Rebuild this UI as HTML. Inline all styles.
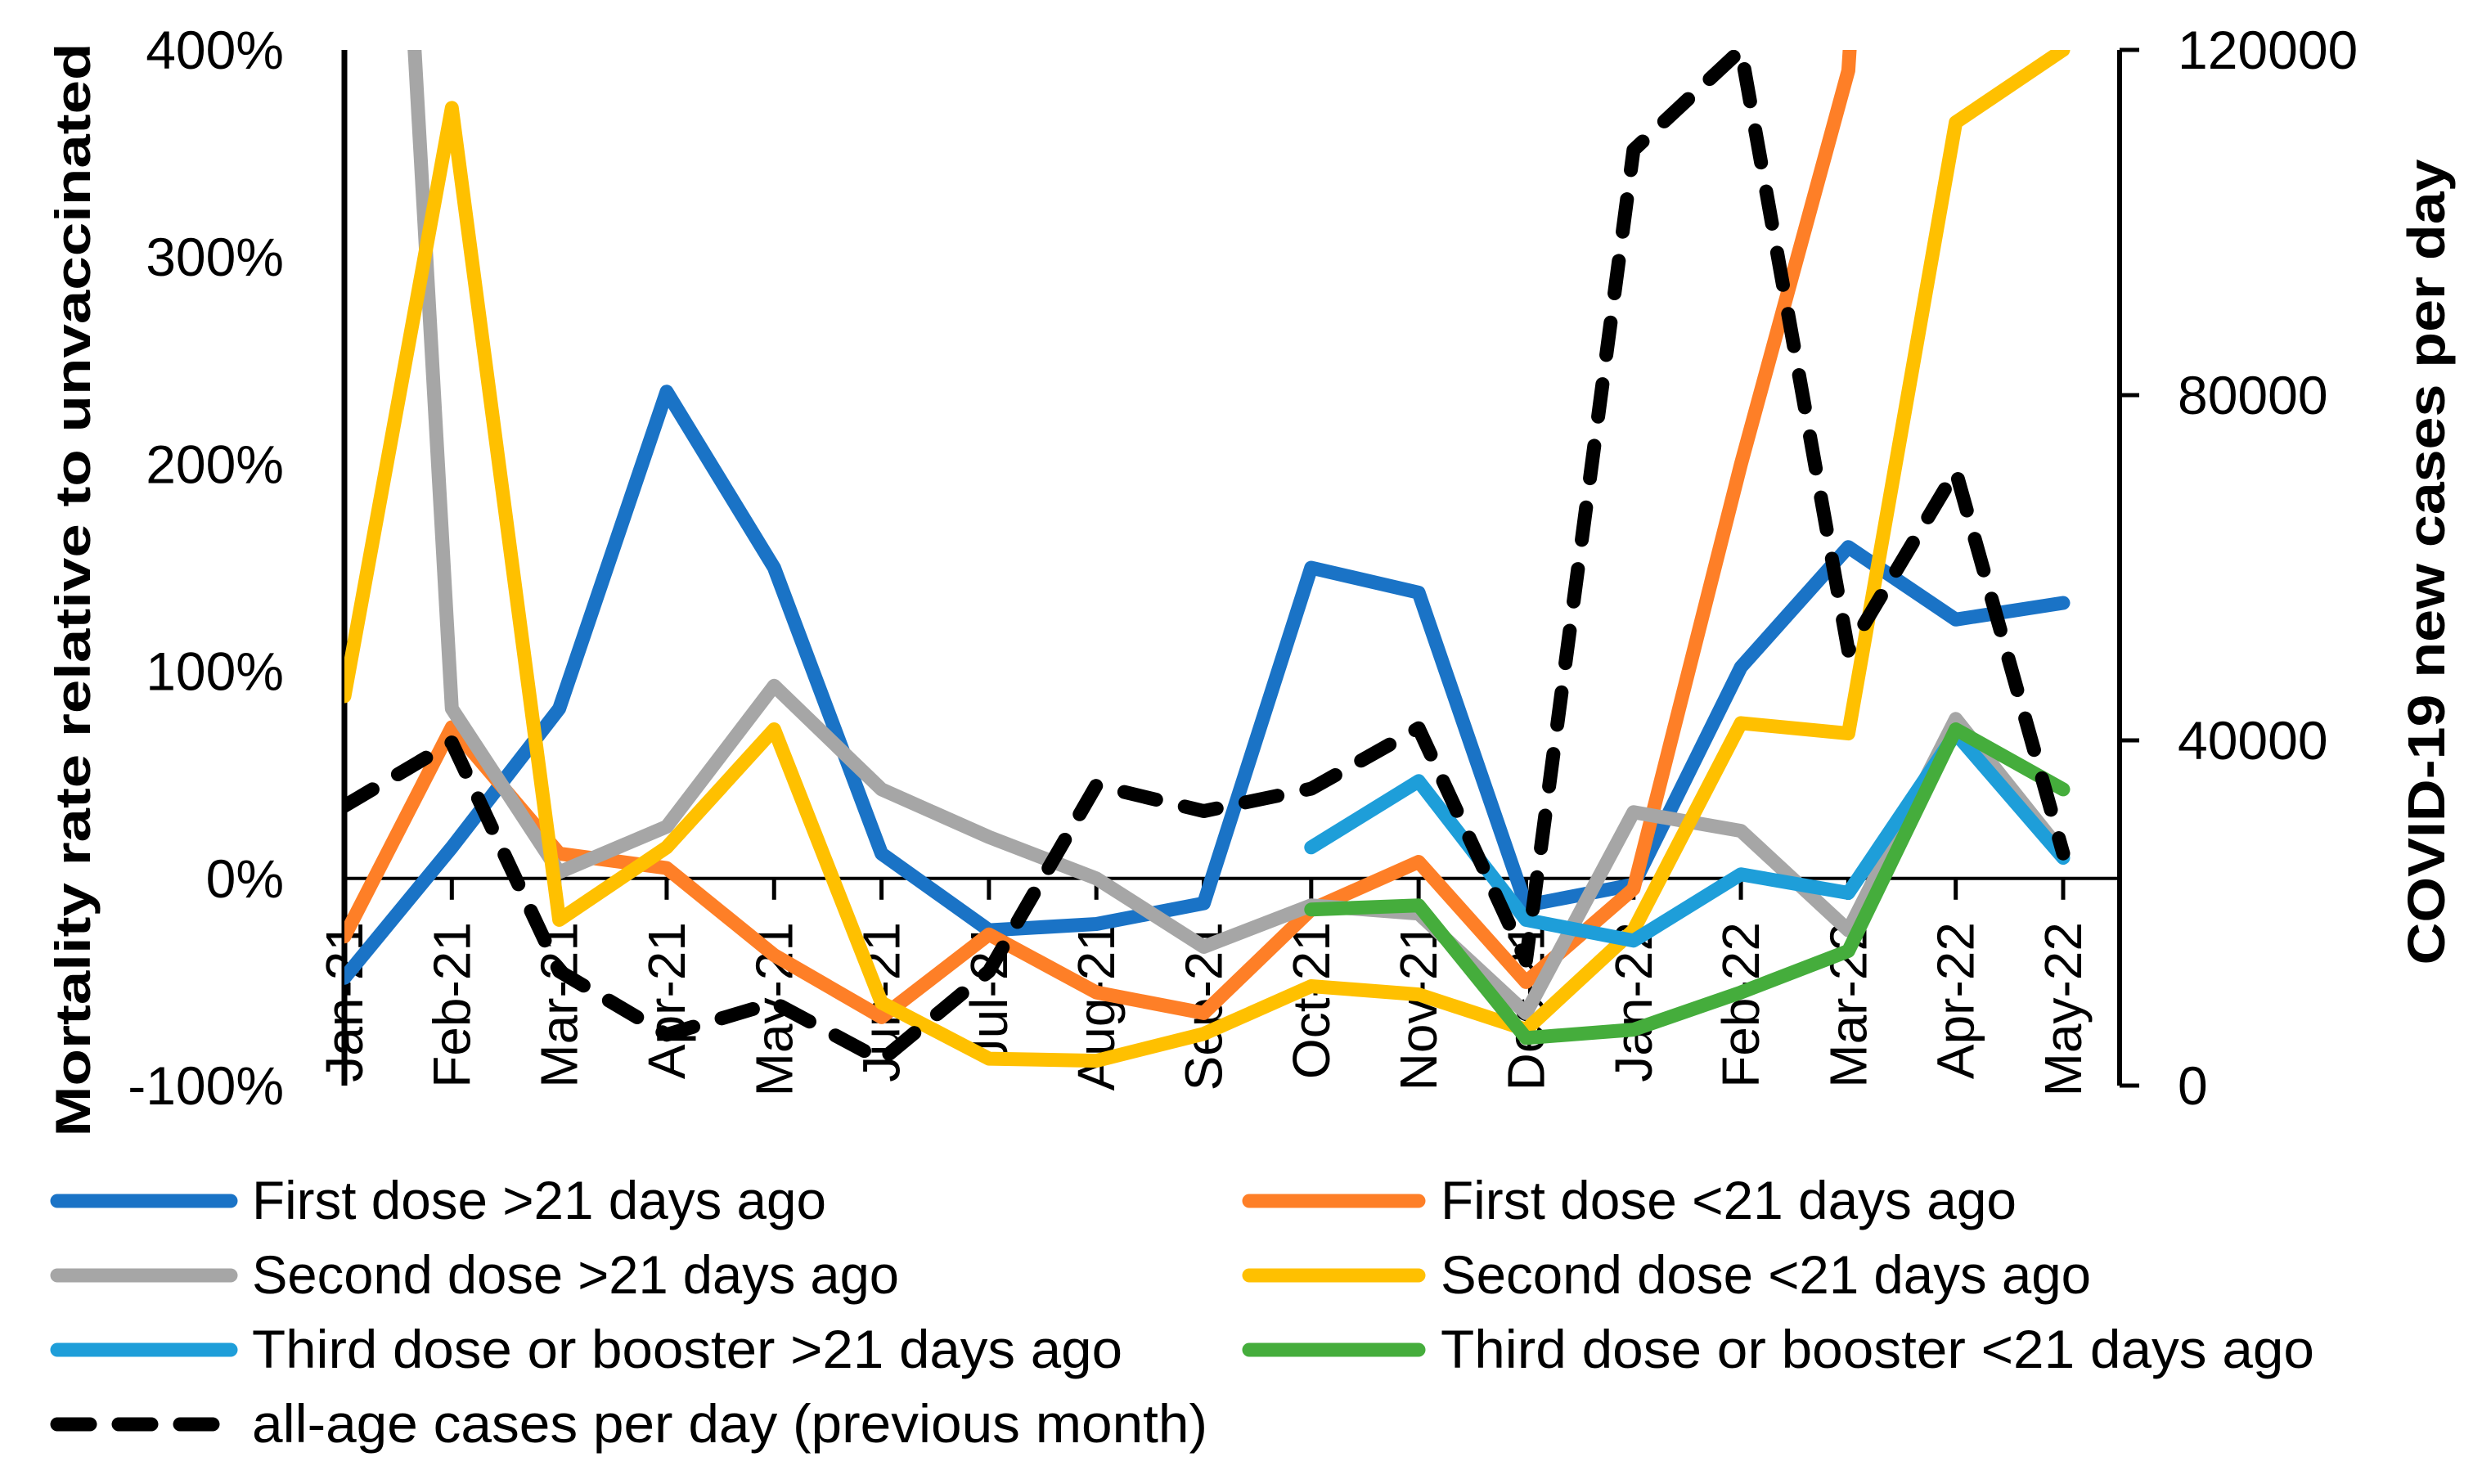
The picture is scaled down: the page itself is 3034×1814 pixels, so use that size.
<!DOCTYPE html>
<html><head><meta charset="utf-8"><style>
html,body{margin:0;padding:0;background:#fff}
svg{display:block}
text{font-family:"Liberation Sans",sans-serif;fill:#000}
</style></head><body>
<svg id="chart" width="3034" height="1814" viewBox="0 0 3034 1814" xmlns="http://www.w3.org/2000/svg">
<defs><clipPath id="plotclip"><rect x="421" y="61" width="2170" height="1266"/></clipPath></defs>
<g id="axes"></g>
<g id="series" clip-path="url(#plotclip)"></g>
<g id="legend"></g>
<text transform="translate(110,721) rotate(-90)" text-anchor="middle" font-size="60" font-weight="bold" textLength="1337" lengthAdjust="spacingAndGlyphs">Mortality rate relative to unvaccinated</text>
<text transform="translate(2988,687) rotate(-90)" text-anchor="middle" font-size="64" font-weight="bold" textLength="985" lengthAdjust="spacingAndGlyphs">COVID-19 new cases per day</text>
</svg>
<script>
const months = ["Jan-21","Feb-21","Mar-21","Apr-21","May-21","Jun-21","Jul-21","Aug-21","Sep-21","Oct-21","Nov-21","Dec-21","Jan-22","Feb-22","Mar-22","Apr-22","May-22"];
const leftTicks = [-100,0,100,200,300,400];
const leftTickLabels = ["-100%","0%","100%","200%","300%","400%"];
const rightTicks = [0,40000,80000,120000];
const rightTickLabels = ["0","40000","80000","120000"];
const firstOld = [-48,15,82,235,150,12,-25,-22,-12,150,138,-13,-3,102,160,125,133];
const firstNew = [-28,73,12,5,-37,-67,-27,-55,-65,-15,8,-50,-5,200,390,1200,1200];
const secondOld = [1000,82,3,25,93,43,20,0,-33,-13,-17,-65,32,23,-25,77,12];
const secondNew = [88,372,-20,15,72,-60,-87,-88,-75,-52,-56,-73,-25,75,70,365,400];
const thirdOld = [null,null,null,null,null,null,null,null,null,15,47,-20,-30,2,-7,70,10];
const thirdNew = [null,null,null,null,null,null,null,null,null,-15,-13,-77,-73,-55,-35,72,43];
const cases = [32400,39750,13250,5900,9600,2950,13250,34800,31800,34400,41400,14500,108400,120000,50400,71200,26900];

const X0=421, DX=(2522-421)/16, YT=61, YB=1327, XR=2591;
const x = i => X0 + i*DX;
const yL = v => YB - (v+100)/500*(YB-YT);
const yR = v => YB - v/120000*(YB-YT);
const NS="http://www.w3.org/2000/svg";
function mk(tag, attrs, parent){const e=document.createElementNS(NS,tag);for(const k in attrs)e.setAttribute(k,attrs[k]);parent.appendChild(e);return e;}
const axes=document.getElementById('axes'), series=document.getElementById('series'), legend=document.getElementById('legend');

let e=mk('line',{x1:X0,y1:YT,x2:X0,y2:YB,stroke:'#000','stroke-width':7},axes);


leftTicks.forEach((t,i)=>{
  const el=mk('text',{x:347,y:yL(t)+23,'text-anchor':'end','font-size':66},axes);
  el.textContent=leftTickLabels[i];
  
  
});
e=mk('line',{x1:X0,y1:yL(0),x2:XR,y2:yL(0),stroke:'#000','stroke-width':4},axes);


months.forEach((m,i)=>{
  const t=mk('line',{x1:x(i),y1:yL(0),x2:x(i),y2:yL(0)+26,stroke:'#000','stroke-width':5},axes);
  
  
  const el=mk('text',{transform:`translate(${x(i)+22},1127) rotate(-90)`,'text-anchor':'end','font-size':64},axes);
  el.textContent=m;
  
  
});
e=mk('line',{x1:XR,y1:YT,x2:XR,y2:YB,stroke:'#000','stroke-width':6},axes);


rightTicks.forEach((t,i)=>{
  const tk=mk('line',{x1:XR,y1:yR(t),x2:XR+24,y2:yR(t),stroke:'#000','stroke-width':5},axes);
  
  
  const el=mk('text',{x:2662,y:yR(t)+23,'font-size':66},axes);
  el.textContent=rightTickLabels[i];
  
  
});

function linePath(vals, yf){
  let d='',pen=false;
  vals.forEach((v,i)=>{ if(v===null){pen=false;return;} d+=(pen?'L':'M')+x(i).toFixed(1)+' '+yf(v).toFixed(1)+' '; pen=true;});
  return d;
}
const defs=[
  {vals:firstOld,color:'#1a73c6',name:'series-first-dose-over-21',label:'First dose >21 days ago',col:0,row:0,len:702},
  {vals:firstNew,color:'#fe7f27',name:'series-first-dose-under-21',label:'First dose <21 days ago',col:1,row:0,len:704},
  {vals:secondOld,color:'#a6a6a6',name:'series-second-dose-over-21',label:'Second dose >21 days ago',col:0,row:1,len:791},
  {vals:secondNew,color:'#ffc000',name:'series-second-dose-under-21',label:'Second dose <21 days ago',col:1,row:1,len:795},
  {vals:thirdOld,color:'#1e9ed9',name:'series-third-dose-over-21',label:'Third dose or booster >21 days ago',col:0,row:2,len:1064},
  {vals:thirdNew,color:'#45ad3c',name:'series-third-dose-under-21',label:'Third dose or booster <21 days ago',col:1,row:2,len:1068}
];
defs.forEach(s=>{
  const p=mk('path',{d:linePath(s.vals,yL),fill:'none',stroke:s.color,'stroke-width':17,'stroke-linejoin':'round','stroke-linecap':'round'},series);
  
  
});
const cp=mk('path',{d:linePath(cases,yR),fill:'none',stroke:'#000','stroke-width':17,'stroke-linecap':'round','stroke-linejoin':'round','stroke-dasharray':'40 36'},series);



const rowsY=[1468,1559,1650,1741];
const colX=[[62,290,308],[1519,1742,1761]];
defs.forEach(s=>{
  const c=colX[s.col], y=rowsY[s.row];
  const g=mk('g',{},legend);
  
  
  mk('line',{x1:c[0]+8,y1:y,x2:c[1]-8,y2:y,stroke:s.color,'stroke-width':17,'stroke-linecap':'round'},g);
  const t=mk('text',{x:c[2],y:y+22,'font-size':66,textLength:s.len,lengthAdjust:'spacingAndGlyphs'},g);
  t.textContent=s.label;
});
const g=mk('g',{},legend);


mk('line',{x1:70,y1:rowsY[3],x2:282,y2:rowsY[3],stroke:'#000','stroke-width':17,'stroke-linecap':'round','stroke-dasharray':'40 35'},g);
const t=mk('text',{x:308,y:rowsY[3]+22,'font-size':66,textLength:1168,lengthAdjust:'spacingAndGlyphs'},g);
t.textContent='all-age cases per day (previous month)';
</script>
</body></html>
